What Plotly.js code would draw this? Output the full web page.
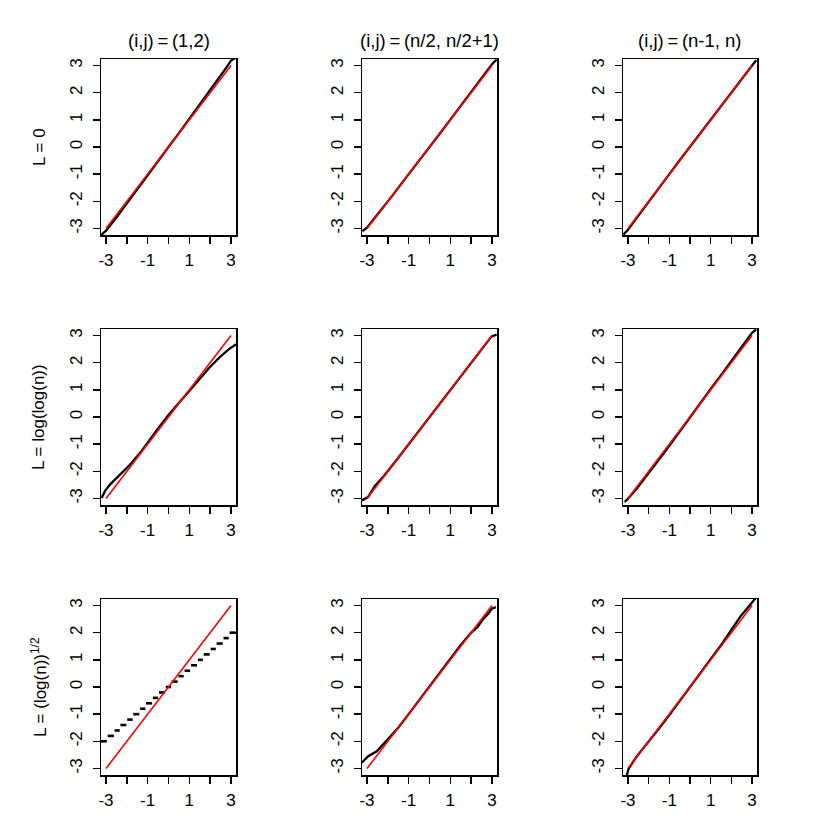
<!DOCTYPE html>
<html>
<head>
<meta charset="utf-8">
<script src="https://cdn.plot.ly/plotly-3.0.1.min.js"></script>
<style>
  html, body { margin: 0; padding: 0; background: #fff; }
  #chart { width: 830px; height: 830px; }
</style>
</head>
<body>
<div id="chart"></div>
<script>
// column / row captions
const colTitles = ["(i,j)\u2009=\u2009(1,2)", "(i,j)\u2009=\u2009(n/2, n/2+1)", "(i,j)\u2009=\u2009(n-1, n)"];
const rowTitles = ["L = 0", "L = log(log(n))", "L = (log(n))<sup>1/2</sup>"];

// reference line (red)
const refX = [-3, 3];
const refY = [-3, 3];

// sample quantiles (x = theoretical, y = sample)
const p11x = [-3.25, -3.0, -2.6, -2.2, -1.8, -1.4, -1.0, -0.5, 0.0, 0.5, 1.0, 1.5, 2.0, 2.4, 2.8, 3.0, 3.25];
const p11y = [-3.26, -3.08, -2.7, -2.28, -1.85, -1.43, -1.01, -0.5, 0.0, 0.51, 1.03, 1.56, 2.1, 2.52, 2.95, 3.18, 3.3];

const p12x = [-3.22, -3.0, -2.7, -2.3, -1.8, -1.2, -0.6, 0.0, 0.6, 1.2, 1.8, 2.3, 2.7, 3.0, 3.22];
const p12y = [-3.1, -2.97, -2.68, -2.3, -1.81, -1.2, -0.61, 0.0, 0.6, 1.21, 1.82, 2.33, 2.73, 3.05, 3.22];

const p13x = [-3.22, -3.0, -2.7, -2.3, -1.8, -1.2, -0.6, 0.0, 0.6, 1.2, 1.8, 2.3, 2.7, 3.0, 3.2];
const p13y = [-3.22, -3.05, -2.74, -2.32, -1.82, -1.2, -0.59, 0.01, 0.61, 1.22, 1.82, 2.31, 2.72, 3.04, 3.2];

const p21x = [-3.21, -3.05, -2.81, -2.33, -1.85, -1.37, -0.97, -0.49, 0.0, 0.55, 1.03, 1.51, 1.99, 2.47, 2.9, 3.25];
const p21y = [-2.98, -2.73, -2.49, -2.12, -1.76, -1.33, -0.9, -0.41, 0.07, 0.56, 0.99, 1.42, 1.84, 2.21, 2.5, 2.68];

const p22x = [-3.24, -2.95, -2.63, -2.2, -1.6, -1.0, -0.4, 0.0, 0.4, 1.0, 1.6, 2.2, 2.6, 2.97, 3.22];
const p22y = [-3.07, -2.95, -2.55, -2.18, -1.6, -1.0, -0.4, 0.02, 0.42, 1.02, 1.62, 2.22, 2.6, 2.96, 3.03];

const p23x = [-3.16, -3.0, -2.6, -2.0, -1.5, -1.0, -0.5, 0.0, 0.5, 1.0, 1.5, 2.0, 2.5, 2.8, 3.0, 3.2];
const p23y = [-3.13, -3.01, -2.66, -2.08, -1.57, -1.06, -0.53, 0.0, 0.52, 1.03, 1.54, 2.06, 2.58, 2.9, 3.1, 3.22];

// row 3, col 1 is a staircase: one short dash per level
const stepLevels = [-2.0, -1.8, -1.6, -1.4, -1.2, -1.0, -0.8, -0.6, -0.4, -0.2, 0.0,
                    0.2, 0.4, 0.6, 0.8, 1.0, 1.2, 1.4, 1.6, 1.8, 2.0];
const stepStart = [-3.30, -2.92, -2.59, -2.31, -1.98, -1.69, -1.36, -1.08, -0.75, -0.46, -0.13,
                   0.15, 0.48, 0.77, 1.08, 1.41, 1.69, 2.02, 2.31, 2.64, 2.93];
const stepEnd = [-2.96, -2.62, -2.34, -2.02, -1.72, -1.40, -1.11, -0.79, -0.50, -0.17, 0.12,
                 0.44, 0.73, 1.04, 1.37, 1.65, 1.98, 2.27, 2.60, 2.89, 3.30];

const p32x = [-3.25, -2.94, -2.53, -2.22, -1.9, -1.5, -1.0, -0.5, 0.0, 0.5, 1.0, 1.5, 2.0, 2.3, 2.58, 2.8, 2.99, 3.19];
const p32y = [-2.79, -2.55, -2.37, -2.12, -1.86, -1.5, -1.0, -0.49, 0.03, 0.53, 1.04, 1.55, 2.0, 2.2, 2.51, 2.68, 2.88, 2.94];

const p33x = [-3.08, -2.97, -2.6, -2.0, -1.5, -1.0, -0.5, 0.0, 0.5, 1.0, 1.5, 2.0, 2.44, 2.8, 3.08, 3.2];
const p33y = [-3.32, -3.01, -2.58, -2.03, -1.53, -1.03, -0.52, 0.0, 0.5, 1.02, 1.54, 2.1, 2.6, 2.93, 3.21, 3.3];

// ticks: R drops the x labels that would collide, so -2, 0, 2 are bare ticks
const xLabelVals = [-3, -1, 1, 3];
const xBareTicks = [-2, 0, 2];
const yTickVals = [-3, -2, -1, 0, 1, 2, 3];

// pixel boxes of the panels
const W = 830, H = 830;
const colPx = [[101, 236], [362, 497], [623, 757]];
const rowPx = [[59, 235], [329, 505], [599, 775]];
const FONT = "Liberation Sans, Arial, Helvetica, sans-serif";
const TICK_SIZE = 17;
const TITLE_SIZE = 18.5;
const ROW_SIZE = 17;

// staircase -> segments separated by nulls
let stepX = [], stepY = [];
for (let i = 0; i < stepLevels.length; i++) {
    stepX.push(stepStart[i], stepEnd[i], null);
    stepY.push(stepLevels[i], stepLevels[i], null);
}

const blackData = [
    [p11x, p11y], [p12x, p12y], [p13x, p13y],
    [p21x, p21y], [p22x, p22y], [p23x, p23y],
    [stepX, stepY], [p32x, p32y], [p33x, p33y]
];

let data = [];
let layout = {
    width: W,
    height: H,
    margin: { l: 0, r: 0, t: 0, b: 0 },
    paper_bgcolor: "white",
    plot_bgcolor: "white",
    showlegend: false,
    font: { family: FONT, size: TICK_SIZE, color: "black" },
    annotations: []
};

for (let r = 0; r < 3; r++) {
    for (let c = 0; c < 3; c++) {
        const k = r * 3 + c + 1;
        const sfx = k === 1 ? "" : String(k);
        const isStep = (r === 2 && c === 0);

        data.push({
            x: blackData[k - 1][0],
            y: blackData[k - 1][1],
            xaxis: "x" + sfx,
            yaxis: "y" + sfx,
            mode: "lines",
            connectgaps: false,
            line: { color: "black", width: isStep ? 2.6 : 2.3 },
            hoverinfo: "skip"
        });
        data.push({
            x: refX,
            y: refY,
            xaxis: "x" + sfx,
            yaxis: "y" + sfx,
            mode: "lines",
            line: { color: "#ff0000", width: 1.6 },
            hoverinfo: "skip"
        });

        const axisCommon = {
            range: [-3.24, 3.24],
            showgrid: false,
            zeroline: false,
            showline: true,
            mirror: true,
            linecolor: "black",
            linewidth: 1.5,
            ticks: "outside",
            ticklen: 7,
            tickwidth: 1.5,
            tickcolor: "black",
            tickmode: "array",
            tickfont: { family: FONT, size: TICK_SIZE, color: "black" },
            fixedrange: true
        };

        layout["xaxis" + sfx] = Object.assign({}, axisCommon, {
            domain: [colPx[c][0] / W, colPx[c][1] / W],
            anchor: "y" + sfx,
            tickvals: xLabelVals,
            ticktext: xLabelVals.map(String),
            ticklabelstandoff: 2,
            minor: {
                tickmode: "array",
                tickvals: xBareTicks,
                ticks: "outside",
                ticklen: 7,
                tickwidth: 1.5,
                tickcolor: "black",
                showgrid: false
            }
        });
        layout["yaxis" + sfx] = Object.assign({}, axisCommon, {
            domain: [1 - rowPx[r][1] / H, 1 - rowPx[r][0] / H],
            anchor: "x" + sfx,
            tickvals: yTickVals,
            ticktext: yTickVals.map(String),
            tickangle: -90,
            ticklabelstandoff: 4
        });
    }
}

// column titles
colTitles.forEach((t, c) => {
    layout.annotations.push({
        text: t,
        xref: "paper", yref: "paper",
        x: (colPx[c][0] + colPx[c][1]) / 2 / W,
        y: 1 - 40 / H,
        xanchor: "center", yanchor: "middle",
        showarrow: false,
        font: { family: FONT, size: TITLE_SIZE, color: "black" }
    });
});

// row titles
rowTitles.forEach((t, r) => {
    layout.annotations.push({
        text: t,
        xref: "paper", yref: "paper",
        x: 39 / W,
        y: 1 - (rowPx[r][0] + rowPx[r][1]) / 2 / H,
        xanchor: "center", yanchor: "middle",
        textangle: -90,
        showarrow: false,
        font: { family: FONT, size: ROW_SIZE, color: "black" }
    });
});

Plotly.newPlot("chart", data, layout, { staticPlot: true, displayModeBar: false });
</script>
</body>
</html>
